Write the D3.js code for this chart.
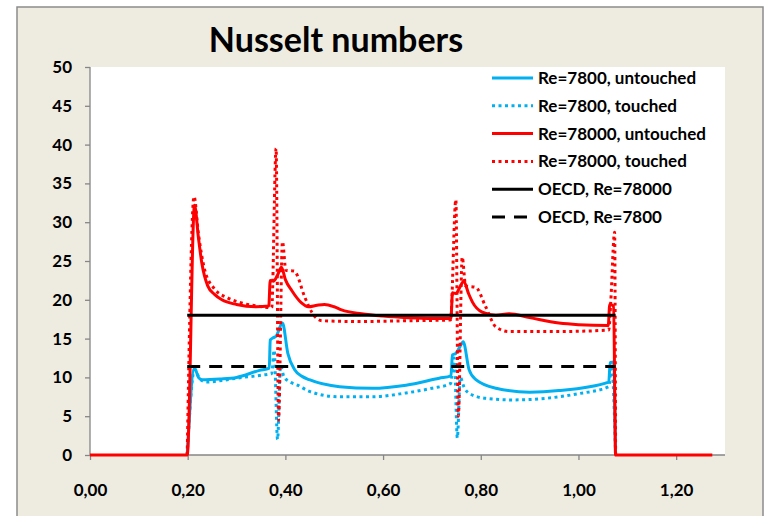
<!DOCTYPE html>
<html>
<head>
<meta charset="utf-8">
<script src="https://d3js.org/d3.v7.min.js"></script>
<style>
  body { margin: 0; background: #ffffff; }
  text { font-family: Lato, "Open Sans", sans-serif; font-weight: bold; fill: #000; }
</style>
</head>
<body>
<div id="chart"></div>
<script>
  // x ticks and y ticks
  var xTicks = [0, 0.2, 0.4, 0.6, 0.8, 1.0, 1.2];
  var yTicks = [0, 5, 10, 15, 20, 25, 30, 35, 40, 45, 50];

  // series values: [x, Nu]
  var re7800Untouched = [[0.199,0],[0.214,11.2],[0.222,10.0],[0.229,9.7],[0.266,9.8],[0.3,10.0],[0.347,10.9],
    [0.367,11.2],[0.369,14.8],[0.375,15.1],[0.381,15.3],[0.394,17.0],[0.405,13.1],[0.419,11.0],[0.435,10.1],
    [0.449,9.7],[0.511,8.8],[0.578,8.6],[0.647,9.0],[0.715,9.9],[0.739,10.2],[0.742,12.9],[0.749,13.1],
    [0.756,13.8],[0.764,14.6],[0.776,11.0],[0.79,9.7],[0.831,8.6],[0.9,8.1],[0.96,8.3],[1.062,9.4],
    [1.065,11.9],[1.072,12.0],[1.076,0]];

  var re7800Touched = [[0.199,0],[0.214,11.0],[0.225,9.8],[0.239,9.4],[0.27,9.6],[0.3,9.9],[0.353,10.3],
    [0.372,10.5],[0.377,13.5],[0.384,2.0],[0.39,11.5],[0.397,10.1],[0.41,9.4],[0.425,9.0],[0.449,8.2],
    [0.51,7.5],[0.578,7.5],[0.647,8.0],[0.7,8.6],[0.738,9.2],[0.746,12.5],[0.752,2.2],[0.758,10.0],
    [0.766,8.7],[0.775,8.0],[0.81,7.3],[0.865,7.1],[0.933,7.3],[0.96,7.5],[1.0,7.9],[1.062,8.8],
    [1.068,11.5],[1.076,0]];

  var re78000Untouched = [[0,0],[0.199,0],[0.214,32.2],[0.222,28],[0.229,24.7],[0.241,21.8],[0.255,20.7],
    [0.27,20.0],[0.3,19.4],[0.34,19.1],[0.366,19.2],[0.369,22.5],[0.376,22.4],[0.384,23.2],[0.392,24.2],
    [0.4,22.6],[0.413,21.2],[0.433,19.6],[0.447,19.1],[0.465,19.3],[0.48,19.4],[0.5,19.1],[0.515,18.7],
    [0.556,18.2],[0.6,17.9],[0.65,17.7],[0.7,17.6],[0.739,17.6],[0.742,20.9],[0.749,20.8],[0.757,21.6],
    [0.765,22.4],[0.775,20.8],[0.783,19.7],[0.803,18.4],[0.831,18.0],[0.858,18.2],[0.9,17.7],[0.96,17.0],
    [1.0,16.8],[1.061,16.7],[1.064,19.4],[1.072,19.2],[1.076,0],[1.274,0]];

  var re78000Touched = [[0.199,0],[0.213,33.3],[0.222,28.5],[0.235,23.8],[0.255,21.4],[0.28,20.3],
    [0.31,19.6],[0.341,19.2],[0.372,19.0],[0.381,39.5],[0.386,4.5],[0.394,27.5],[0.401,23.8],[0.418,23.7],
    [0.44,20.3],[0.455,18.3],[0.475,17.3],[0.55,17.2],[0.65,17.3],[0.738,17.4],[0.749,32.9],[0.754,5.0],
    [0.762,25.5],[0.769,21.8],[0.79,21.6],[0.81,19.1],[0.831,16.5],[0.858,15.9],[0.95,15.9],[1.062,16.1],
    [1.066,19.6],[1.074,28.7],[1.076,0]];

  var oecd78000 = [[0.199,18.0],[1.076,18.0]];
  var oecd7800 = [[0.199,11.4],[1.076,11.4]];

  var legendLabels = ["Re=7800, untouched", "Re=7800, touched", "Re=78000, untouched",
                      "Re=78000, touched", "OECD, Re=78000", "OECD, Re=7800"];

  var W = 777, H = 516;
  var svg = d3.select("#chart").append("svg")
    .attr("width", W).attr("height", H);

  // chart area
  svg.append("rect")
    .attr("x", 17).attr("y", 7).attr("width", 746).attr("height", 520)
    .attr("fill", "#eeece1").attr("stroke", "#8c8c8c").attr("stroke-width", 1.5);

  var plot = {left: 90, top: 67, right: 725, bottom: 455};

  svg.append("rect")
    .attr("x", plot.left).attr("y", plot.top)
    .attr("width", plot.right - plot.left).attr("height", plot.bottom - plot.top)
    .attr("fill", "#ffffff");

  var x = d3.scaleLinear().domain([0, 1.3]).range([plot.left, plot.right]);
  var y = d3.scaleLinear().domain([0, 50]).range([plot.bottom, plot.top]);

  // title
  svg.append("text")
    .attr("x", 336).attr("y", 52)
    .attr("text-anchor", "middle")
    .style("font-size", "34px")
    .text("Nusselt numbers");

  // y axis
  var yAxis = svg.append("g")
    .attr("transform", "translate(" + plot.left + ",0)")
    .call(d3.axisLeft(y).tickValues(yTicks).tickSize(5).tickPadding(13).tickFormat(d3.format("d")));
  yAxis.selectAll("text").style("font-size", "17px");

  // x axis
  var xAxis = svg.append("g")
    .attr("transform", "translate(0," + plot.bottom + ")")
    .call(d3.axisBottom(x).tickValues(xTicks).tickSize(5).tickPadding(24)
      .tickFormat(function(d) { return d3.format(".2f")(d).replace(".", ","); }));
  xAxis.selectAll("text").style("font-size", "17px");

  svg.selectAll(".domain, .tick line").attr("stroke", "#868686").attr("stroke-width", 1.3);
  xAxis.select(".domain").attr("d", "M" + plot.left + ",0H" + plot.right);
  yAxis.select(".domain").attr("d", "M0," + plot.bottom + "V" + plot.top);

  var line = d3.line()
    .x(function(d) { return x(d[0]); })
    .y(function(d) { return y(d[1]); })
    .curve(d3.curveMonotoneX);

  var series = [
    {data: re7800Untouched, color: "#00b0f0", dash: null},
    {data: re7800Touched, color: "#00b0f0", dash: "3,3.5"},
    {data: re78000Untouched, color: "#ff0000", dash: null},
    {data: re78000Touched, color: "#ff0000", dash: "3,3.5"},
    {data: oecd78000, color: "#000000", dash: null},
    {data: oecd7800, color: "#000000", dash: "13,9"}
  ];

  svg.append("g").selectAll("path")
    .data(series)
    .enter()
    .append("path")
      .attr("d", function(d) { return line(d.data); })
      .attr("fill", "none")
      .attr("stroke", function(d) { return d.color; })
      .attr("stroke-width", 3)
      .attr("stroke-linejoin", "round")
      .attr("stroke-dasharray", function(d) { return d.dash; });

  // legend
  var legend = svg.append("g").selectAll("g")
    .data(series)
    .enter()
    .append("g")
      .attr("transform", function(d, i) { return "translate(492," + (78 + i * 27.8) + ")"; });

  legend.append("line")
    .attr("x1", 0).attr("x2", 41).attr("y1", 0).attr("y2", 0)
    .attr("stroke", function(d) { return d.color; })
    .attr("stroke-width", 3)
    .attr("stroke-dasharray", function(d) { return d.dash; });

  legend.append("text")
    .attr("x", 46).attr("y", 6)
    .style("font-size", "17px")
    .text(function(d, i) { return legendLabels[i]; });
</script>
</body>
</html>
